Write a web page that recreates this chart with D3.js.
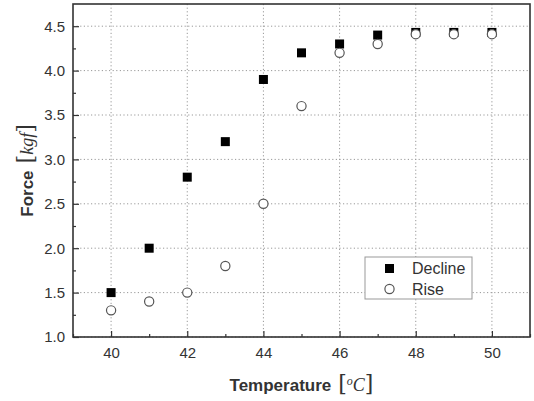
<!DOCTYPE html>
<html>
<head>
<meta charset="utf-8">
<script src="https://cdn.jsdelivr.net/npm/d3@7"></script>
<style>
	body { margin: 0; background: #fff; }
	text { font-family: Arial, "Liberation Sans", sans-serif; fill: #333; }
	.grid line { stroke: #999; stroke-dasharray: 1.2 2.4; stroke-width: 1; }
</style>
</head>
<body>
<div id="chart"></div>
<script>
// data
const temps = [40, 41, 42, 43, 44, 45, 46, 47, 48, 49, 50];
const decline = [1.5, 2.0, 2.8, 3.2, 3.9, 4.2, 4.3, 4.4, 4.43, 4.43, 4.43];
const rise = [1.3, 1.4, 1.5, 1.8, 2.5, 3.6, 4.2, 4.3, 4.41, 4.41, 4.41];
const xTicks = [40, 42, 44, 46, 48, 50];
const yTicks = [1.0, 1.5, 2.0, 2.5, 3.0, 3.5, 4.0, 4.5];

const W = 534, H = 401;
const margin = {top: 4, right: 4, bottom: 64, left: 73};
const width = W - margin.left - margin.right;
const height = H - margin.top - margin.bottom;

const xScale = d3.scaleLinear().domain([39, 51]).range([0, width]);
const yScale = d3.scaleLinear().domain([1.0, 4.75]).range([height, 0]);

const svg = d3.select('#chart').append('svg')
	.attr('width', W)
	.attr('height', H);

const g = svg.append('g')
	.attr('transform', `translate(${margin.left}, ${margin.top})`);

// dotted grid at major ticks
g.append('g').attr('class', 'grid')
	.selectAll('line').data(xTicks).enter().append('line')
	.attr('x1', d => xScale(d)).attr('x2', d => xScale(d))
	.attr('y1', 0).attr('y2', height);
g.append('g').attr('class', 'grid')
	.selectAll('line').data(yTicks).enter().append('line')
	.attr('x1', 0).attr('x2', width)
	.attr('y1', d => yScale(d)).attr('y2', d => yScale(d));

// axes, ticks pointing inward
const xAxis = d3.axisBottom(xScale).tickValues(xTicks).tickSize(-6).tickPadding(10).tickFormat(d3.format('d'));
const xMinor = d3.axisBottom(xScale).tickValues(d3.range(39, 52, 1).filter(v => !xTicks.includes(v))).tickSize(-3).tickFormat('');
const yAxis = d3.axisLeft(yScale).tickValues(yTicks).tickSize(-6).tickPadding(8).tickFormat(d3.format('.1f'));
const yMinor = d3.axisLeft(yScale).tickValues(d3.range(1.25, 4.75, 0.5)).tickSize(-3).tickFormat('');

function styleAxis(sel) {
	sel.select('.domain').remove();
	sel.selectAll('line').attr('stroke', '#333').attr('stroke-width', 1.2);
	sel.selectAll('text').style('font-size', '15px').attr('fill', '#333');
}

g.append('g').attr('transform', `translate(0, ${height})`).call(xAxis).call(styleAxis);
g.append('g').attr('transform', `translate(0, ${height})`).call(xMinor).call(styleAxis);
g.append('g').call(yAxis).call(styleAxis);
g.append('g').call(yMinor).call(styleAxis);

// frame
g.append('rect')
	.attr('width', width).attr('height', height)
	.attr('fill', 'none').attr('stroke', '#333').attr('stroke-width', 1.6);

// markers
g.append('g').selectAll('rect').data(temps).enter().append('rect')
	.attr('x', (d, i) => xScale(d) - 4.5)
	.attr('y', (d, i) => yScale(decline[i]) - 4.5)
	.attr('width', 9).attr('height', 9)
	.attr('fill', '#000');

g.append('g').selectAll('circle').data(temps).enter().append('circle')
	.attr('cx', d => xScale(d))
	.attr('cy', (d, i) => yScale(rise[i]))
	.attr('r', 4.6)
	.attr('fill', '#fff')
	.attr('stroke', '#555').attr('stroke-width', 1.2);

// legend
const leg = svg.append('g').attr('transform', 'translate(365, 257)');
leg.append('rect').attr('width', 107).attr('height', 42)
	.attr('fill', '#fff').attr('stroke', '#999').attr('stroke-width', 1);
leg.append('rect').attr('x', 20).attr('y', 7).attr('width', 9).attr('height', 9).attr('fill', '#000');
leg.append('circle').attr('cx', 24.5).attr('cy', 32).attr('r', 4.6)
	.attr('fill', '#fff').attr('stroke', '#555').attr('stroke-width', 1.2);
leg.append('text').attr('x', 47).attr('y', 17).style('font-size', '16px').text('Decline');
leg.append('text').attr('x', 47).attr('y', 38).style('font-size', '16px').text('Rise');

// axis titles
const yTitle = svg.append('text')
	.attr('transform', `translate(33, ${margin.top + height / 2}) rotate(-90)`)
	.attr('text-anchor', 'middle')
	.style('font-size', '17px').style('font-weight', 'bold').attr('fill', '#222');
yTitle.append('tspan').text('Force');
yTitle.append('tspan').style('font-family', 'DejaVu Serif, serif').style('font-weight', 'normal').style('font-size', '22px').text(' [');
yTitle.append('tspan').style('font-family', 'Liberation Serif, serif').style('font-style', 'italic').style('font-weight', 'normal').style('font-size', '18px').text('kgf');
yTitle.append('tspan').style('font-family', 'DejaVu Serif, serif').style('font-weight', 'normal').style('font-size', '22px').text(']');

const xTitle = svg.append('text')
	.attr('x', margin.left + width / 2)
	.attr('y', 391)
	.attr('text-anchor', 'middle')
	.style('font-size', '17px').style('font-weight', 'bold').attr('fill', '#222');
xTitle.append('tspan').text('Temperature');
xTitle.append('tspan').style('font-family', 'DejaVu Serif, serif').style('font-weight', 'normal').style('font-size', '22px').text(' [');
xTitle.append('tspan').style('font-family', 'Liberation Serif, serif').style('font-style', 'italic').style('font-weight', 'normal').style('font-size', '12px').attr('dy', -6).text('o');
xTitle.append('tspan').style('font-family', 'Liberation Serif, serif').style('font-style', 'italic').style('font-weight', 'normal').style('font-size', '18px').attr('dy', 6).text('C');
xTitle.append('tspan').style('font-family', 'DejaVu Serif, serif').style('font-weight', 'normal').style('font-size', '22px').text(']');
</script>
</body>
</html>
